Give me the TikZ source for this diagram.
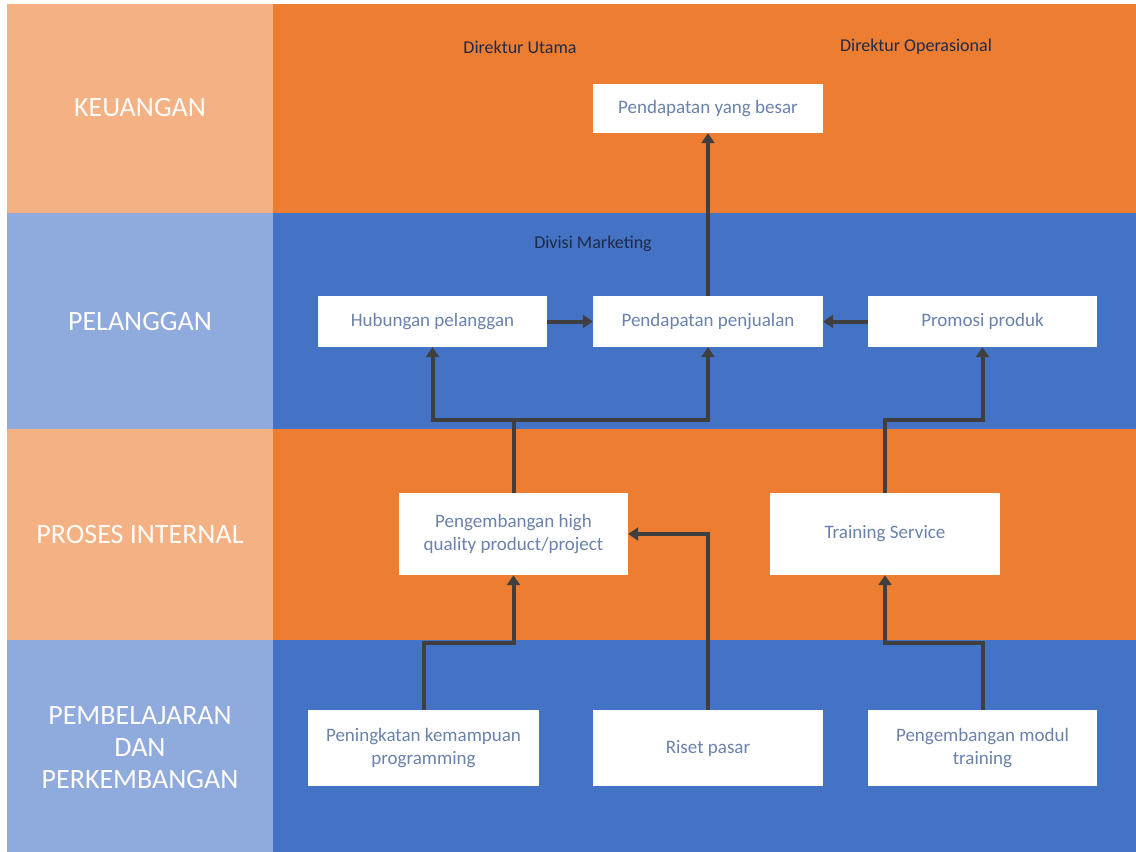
\documentclass[tikz,border=0pt]{standalone}
\usepackage{fontspec}
\setmainfont{Carlito}
\usetikzlibrary{arrows.meta}
\definecolor{lorange}{HTML}{F4B183}
\definecolor{dorange}{HTML}{ED7D31}
\definecolor{dblue}{HTML}{4472C4}
\definecolor{lblue}{HTML}{8FAADC}
\definecolor{boxtext}{HTML}{6A82AC}
\definecolor{headtext}{HTML}{1E2A4A}
\definecolor{conncol}{HTML}{3F3F3F}
\tikzset{
  box/.style={draw=none, fill=white, minimum width=230pt, minimum height=51pt, align=center, text=boxtext, font=\fontsize{19}{23}\selectfont, inner sep=2pt},
  lanelabel/.style={text=white!95!lorange, align=center, font=\fontsize{28}{32}\selectfont},
  headlabel/.style={text=headtext, font=\fontsize{18}{21}\selectfont},
  conn/.style={draw=conncol, line width=4pt, -{Triangle[length=10pt,width=13pt]}},
  connplain/.style={draw=conncol, line width=4pt},
}
\begin{document}
\begin{tikzpicture}[x=1pt,y=-1pt]
\useasboundingbox (0,0) rectangle (1136,852);
\fill[white] (0,0) rectangle (1136,852);
% lanes
\fill[lorange] (7,4) rectangle (273,213);
\fill[dorange] (273,4) rectangle (1136,213);
\fill[lblue] (7,213) rectangle (273,429);
\fill[dblue] (273,213) rectangle (1136,429);
\fill[lorange] (7,429) rectangle (273,640);
\fill[dorange] (273,429) rectangle (1136,640);
\fill[lblue] (7,640) rectangle (273,852);
\fill[dblue] (273,640) rectangle (1136,852);
% lane labels
\node[lanelabel] (lk) at (140,108) {KEUANGAN};
\node[lanelabel] (lp) at (140,322) {PELANGGAN};
\node[lanelabel] (li) at (140,535) {PROSES INTERNAL};
\node[lanelabel] (ll) at (140,748) {PEMBELAJARAN\\DAN\\PERKEMBANGAN};
% headings
\node[headlabel] (du) at (520,47) {Direktur Utama};
\node[headlabel] (dop) at (916,47) {Direktur Operasional};
\node[headlabel] (dm) at (593,244) {Divisi Marketing};
% boxes
\node[box, minimum height=49pt] (besar) at (708,108.5) {Pendapatan yang besar};
\node[box, minimum width=229pt] (hub) at (432.5,321.5) {Hubungan pelanggan};
\node[box] (pjual) at (708,321.5) {Pendapatan penjualan};
\node[box, minimum width=229pt] (promo) at (982.5,321.5) {Promosi produk};
\node[box, minimum width=229pt, minimum height=82pt] (peng) at (513.5,534) {Pengembangan high\\quality product/project};
\node[box, minimum height=82pt] (train) at (885,534) {Training Service};
\node[box, minimum width=231pt, minimum height=76pt] (pkem) at (423.5,748) {Peningkatan kemampuan\\programming};
\node[box, minimum height=76pt] (riset) at (708,748) {Riset pasar};
\node[box, minimum width=229pt, minimum height=76pt] (modul) at (982.5,748) {Pengembangan modul\\training};
% junctions
\coordinate (j1) at (513.5,420);
\coordinate (j2) at (885,420);
\coordinate (j3) at (513.5,643);
\coordinate (j4) at (885,643);
% connectors
\draw[conn] (pjual.north) -- (besar.south);
\draw[conn] (hub.east) -- (pjual.west);
\draw[conn] (promo.west) -- (pjual.east);
\draw[connplain] (peng.north) -- (j1);
\draw[conn] (j1) -| (hub.south);
\draw[conn] (j1) -| (pjual.south);
\draw[conn] (train.north) |- (j2) -| (promo.south);
\draw[conn] (pkem.north) |- (j3) -- (peng.south);
\draw[conn] (riset.north) |- (peng.east);
\draw[conn] (modul.north) |- (j4) -- (train.south);
\end{tikzpicture}
\end{document}
